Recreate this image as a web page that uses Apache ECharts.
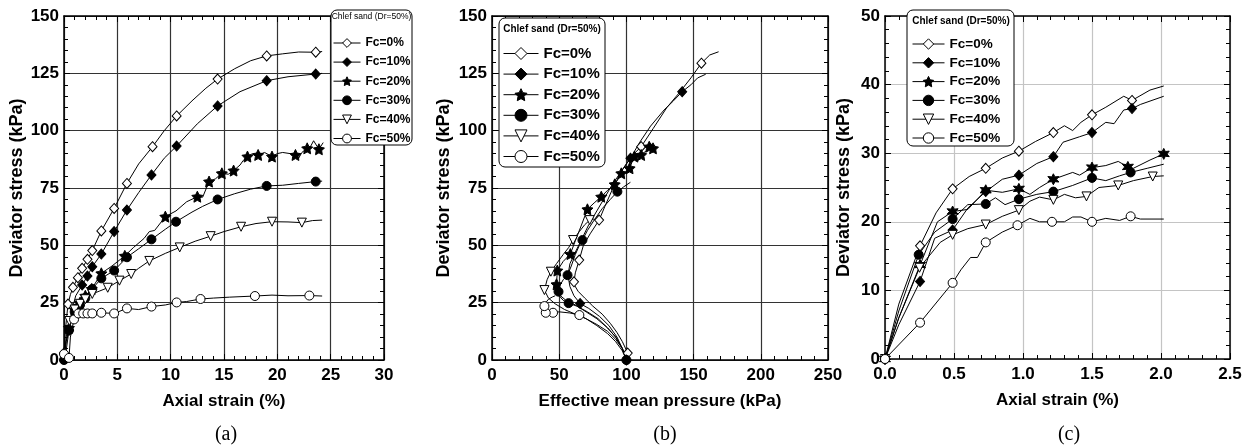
<!DOCTYPE html>
<html>
<head>
<meta charset="utf-8">
<script src="https://cdn.jsdelivr.net/npm/echarts@6/dist/echarts.min.js"></script>
<style>
html, body { margin: 0; padding: 0; background: #fff; }
#main { width: 1256px; height: 446px; }
</style>
</head>
<body>
<div id="main"></div>
<script>
const names = ['Fc=0%', 'Fc=10%', 'Fc=20%', 'Fc=30%', 'Fc=40%', 'Fc=50%'];
const legendTitle = 'Chlef sand (Dr=50%)';

// (a) deviator stress vs axial strain
const aLine0 = [[0,3],[0.15,14],[0.375,24.4],[0.6,28.5],[0.84,31.7],[1.3,35.9],[1.7,40],[2.2,43.9],[2.65,47.7],[3.5,56.3],[4.7,66.1],[5.9,77],[7,85.5],[8.3,93],[9.4,100],[10.56,106.4],[12,113],[13.3,118.5],[14.4,122.5],[16,127],[17.5,130.5],[19,132.6],[20.5,133.5],[22,134.3],[23.6,134.2],[24.2,134.5]];
const aMark0 = [[0,3],[0.375,24.4],[0.84,31.7],[1.3,35.9],[1.7,40],[2.2,43.9],[2.65,47.7],[3.5,56.3],[4.7,66.1],[5.9,77],[8.3,93],[10.56,106.4],[14.4,122.5],[19,132.6],[23.6,134.2]];
const aLine1 = [[0,-3],[0.2,4],[0.47,13],[0.7,21],[1.1,28],[1.7,32.7],[2.2,36.6],[2.65,40.7],[3.5,46.2],[4.7,56],[5.9,65.4],[7,73],[8.2,80.7],[9.4,88],[10.56,93.3],[12.5,103],[14.4,110.8],[16.5,117],[19,121.8],[21,123.5],[23.6,124.7],[24.2,125]];
const aMark1 = [[0,-3],[0.47,13],[1.7,32.7],[2.2,36.6],[2.65,40.7],[3.5,46.2],[4.7,56],[5.9,65.4],[8.2,80.7],[10.56,93.3],[14.4,110.8],[19,121.8],[23.6,124.7]];
const aLine2 = [[0,0],[0.2,8],[0.47,14],[0.7,19],[1,22],[1.5,25],[2,28],[2.6,31],[3,34],[3.5,37.8],[4.5,41],[5.7,45.4],[6.5,49],[7.5,53],[8,56],[8.5,56.5],[9.5,62.5],[10.5,65],[11.5,69],[12.5,71.2],[13,71],[13.6,77.8],[14.2,79],[14.8,81.4],[15.4,81],[15.9,82.6],[16.5,85],[16.8,87],[17.2,88.7],[17.6,89.8],[18.2,89.4],[18.8,90.5],[19.5,88.7],[20,90],[20.5,90.5],[21.2,90],[21.7,89.4],[22,88],[22.3,90.5],[22.8,92.3],[23.1,93],[23.4,95.6],[23.9,91.9],[24.3,94.8]];
const aMark2 = [[0.47,14],[1,22],[1.5,25],[2,28],[2.6,31],[3.5,37.8],[5.7,45.4],[9.5,62.5],[12.5,71.2],[13.6,77.8],[14.8,81.4],[15.9,82.6],[17.2,88.7],[18.2,89.4],[19.5,88.7],[21.7,89.4],[22.8,92.3],[23.9,91.9]];
const aLine3 = [[0,0],[0.2,8],[0.47,13],[0.7,18],[1,21],[1.5,24],[2,27],[2.65,31],[3.5,35.6],[4.7,39],[5.9,44.8],[7,48.5],[8.2,52.6],[9.5,57],[10.5,60.3],[12,64.5],[13,67],[14.4,70],[16,72.5],[17.5,74.5],[19,75.9],[20.5,76.2],[22,77],[23.6,77.8],[24.2,78]];
const aMark3 = [[0,0],[0.47,13],[1,21],[1.5,24],[2,27],[2.65,31],[3.5,35.6],[4.7,39],[5.9,44.8],[8.2,52.6],[10.5,60.3],[14.4,70],[19,75.9],[23.6,77.8]];
const aLine4 = [[0,0],[0.2,10],[0.5,17],[1,22],[1.5,24.5],[2,26.5],[2.65,28.8],[3.3,30],[4.1,31.5],[5.2,34.6],[6.3,37.5],[7,40],[8,43.2],[9.5,46.5],[10.85,49.1],[12.3,51.8],[13.75,54],[15,56],[16.6,58.1],[18,59.5],[19.5,60.3],[21,60.2],[22.3,59.9],[23.3,60.8],[24.2,61]];
const aMark4 = [[0.5,17],[1,22],[1.5,24.5],[2,26.5],[2.65,28.8],[4.1,31.5],[5.2,34.6],[6.3,37.5],[8,43.2],[10.85,49.1],[13.75,54],[16.6,58.1],[19.5,60.3],[22.3,59.9]];
const aLine5 = [[0,2.6],[0.47,0.9],[0.6,10],[0.94,17.7],[1.35,20.3],[1.8,20.3],[2.2,20.3],[2.65,20.3],[3.5,20.6],[4.7,20.3],[5.9,22.5],[7,22],[8.2,23.3],[9.5,24],[10.56,25.1],[11.5,25.5],[12.8,26.6],[14,27],[15.5,27.4],[17.9,27.9],[19.5,28.3],[21,28],[23,28.1],[24.2,27.9]];
const aMark5 = [[0,2.6],[0.47,0.9],[0.94,17.7],[1.35,20.3],[1.8,20.3],[2.2,20.3],[2.65,20.3],[3.5,20.6],[4.7,20.3],[5.9,22.5],[8.2,23.3],[10.56,25.1],[12.8,26.6],[17.9,27.9],[23,28.1]];

// (b) deviator stress vs effective mean pressure
const bLine0 = [[101,3],[97,8],[93,12],[88,16],[82,20],[75,23.5],[69,27],[64,30],[61,33],[61,34.1],[62,38],[64.9,43.6],[68,50],[73,55],[79.7,61],[84,67],[90,75],[97,83],[104,89],[111,93],[120,101],[130,110],[140,117],[148,123],[155.8,129.4],[162,133],[168.6,134.4]];
const bMark0 = [[101,3],[61,34.1],[64.9,43.6],[79.7,61],[111,93],[155.8,129.4]];
const bLine1 = [[100,-3],[100,0],[97,5],[93,10],[87,15],[80,19],[72,22.5],[65.6,24.6],[61,28],[58,32],[56.5,37],[58,42],[62,47],[67,53],[72,59],[78,65],[84,71],[90,77],[96,82],[103,88],[110,95],[118,102],[128,109],[135,113],[141.5,117],[148,120],[153,123],[159,124.6]];
const bMark1 = [[100,-3],[100,0],[65.6,24.6],[103,88],[141.5,117]];
const bLine2 = [[100,0],[97,5],[92,10],[86,14],[78,18],[70,21],[62,24],[55,26],[50,28.5],[48,33],[48.6,39],[53,43],[58.3,46.2],[62,52],[66,58],[71,65.7],[76,68.5],[81.3,71.2],[86,74],[91.3,76.6],[94,79],[96.2,81.4],[100,82],[102.4,83.6],[104,86],[106,88.7],[108,90],[111,89.4],[113,90.5],[115,91],[117,93],[118,94.5],[119.8,92.3]];
const bMark2 = [[48,33],[48.6,39],[58.3,46.2],[71,65.7],[81.3,71.2],[91.3,76.6],[96.2,81.4],[102.4,83.6],[106,88.7],[111,89.4],[117,93],[119.8,92.3]];
const bLine3 = [[100,0],[97,5],[92,10],[86,14],[79,18],[71,21],[63,23.5],[57,24.8],[53,26],[50,28],[49.5,29.8],[51,33],[53,35],[56.2,37],[59,41],[62,46],[65,50],[67.3,52.3],[71,56.5],[76,61],[82,66],[88,70],[93.3,73.4],[98,75.5],[103,77.5]];
const bMark3 = [[100,0],[57,24.8],[49.5,29.8],[56.2,37],[67.3,52.3],[93.3,73.4]];
const bLine4 = [[100,0],[97,5],[92,9],[86,12.5],[78,15.5],[70,18],[62,20],[54,22],[47,24.5],[42,27],[39,30.5],[41,35],[43.8,38.5],[48,42],[53,46],[57,49],[60.3,52.3],[65,56],[69,59],[72.7,61],[76,61.5]];
const bMark4 = [[39,30.5],[43.8,38.5],[60.3,52.3],[72.7,61]];
const bLine5 = [[100,0],[97,4],[92,8],[86,11.5],[78,15],[70,18],[65,19.6],[58,20.5],[50,21],[45.4,20.6],[42,20.3],[40,20.6],[39,23],[40,25],[42,26.5],[45,27.5],[47,28]];
const bMark5 = [[65,19.6],[45.4,20.6],[40,20.6],[39,23.5]];

// (c) early part of (a), axial strain up to 2 %
const cLine0 = [[0,0],[0.1,8],[0.254,16.5],[0.37,21.3],[0.49,24.8],[0.61,26.6],[0.73,27.8],[0.85,29.3],[0.97,30.3],[1.09,31.7],[1.22,33],[1.3,34],[1.36,33.3],[1.42,34.5],[1.5,35.6],[1.6,36.7],[1.73,38.3],[1.79,37.7],[1.92,39.2],[2.02,39.8]];
const cMark0 = [[0,0],[0.254,16.5],[0.49,24.8],[0.73,27.8],[0.97,30.3],[1.22,33],[1.5,35.6],[1.79,37.7]];
const cLine1 = [[0,0],[0.1,5],[0.254,11.3],[0.36,17.6],[0.49,18.8],[0.6,22],[0.73,24.4],[0.85,26.2],[0.97,26.8],[1.1,28.5],[1.22,29.5],[1.29,31.6],[1.41,32.4],[1.5,33],[1.6,34.5],[1.66,34.3],[1.73,36.3],[1.79,36.5],[1.85,37.1],[2.02,38.3]];
const cMark1 = [[0,0],[0.254,11.3],[0.49,18.8],[0.73,24.4],[0.97,26.8],[1.22,29.5],[1.5,33],[1.79,36.5]];
const cLine2 = [[0,0],[0.1,6],[0.254,13.7],[0.38,20],[0.49,21.5],[0.6,21.8],[0.73,24.6],[0.85,24.3],[0.97,24.8],[1.05,24],[1.12,25],[1.22,26.2],[1.36,27.2],[1.41,26.8],[1.5,27.9],[1.6,28.2],[1.69,28.8],[1.76,28],[1.8,27.8],[1.92,29],[2.02,29.9]];
const cMark2 = [[0,0],[0.254,13.7],[0.49,21.5],[0.73,24.6],[0.97,24.8],[1.22,26.2],[1.5,27.9],[1.76,28],[2.02,29.9]];
const cLine3 = [[0,0],[0.1,7],[0.244,15.2],[0.36,18.5],[0.49,20.4],[0.6,22.5],[0.73,22.6],[0.8,23.5],[0.87,22.5],[0.97,23.3],[1.1,24],[1.22,24.4],[1.36,25.3],[1.5,26.4],[1.6,26],[1.7,26.7],[1.78,27.2],[1.9,27.8],[2.02,28.4]];
const cMark3 = [[0,0],[0.244,15.2],[0.49,20.4],[0.73,22.6],[0.97,23.3],[1.22,24.4],[1.5,26.4],[1.78,27.2]];
const cLine4 = [[0,0],[0.1,6],[0.25,13.3],[0.4,17],[0.49,18.1],[0.6,19],[0.73,19.6],[0.85,20.8],[0.97,21.7],[1.05,23],[1.12,23.6],[1.22,23.2],[1.3,24],[1.38,23.5],[1.46,23.7],[1.55,25],[1.69,25.3],[1.8,26],[1.94,26.6],[2.02,26.7]];
const cMark4 = [[0,0],[0.25,13.3],[0.49,18.1],[0.73,19.6],[0.97,21.7],[1.22,23.2],[1.46,23.7],[1.69,25.3],[1.94,26.6]];
const cLine5 = [[0,0],[0.254,5.3],[0.49,11.1],[0.55,13],[0.62,14.8],[0.67,14.8],[0.73,17],[0.85,18.5],[0.96,19.5],[1.05,20.5],[1.12,20],[1.21,20],[1.3,20],[1.36,20.7],[1.42,20.7],[1.5,20],[1.6,20.5],[1.7,20.2],[1.78,20.8],[1.85,20.4],[2.02,20.4]];
const cMark5 = [[0,0],[0.254,5.3],[0.49,11.1],[0.73,17],[0.96,19.5],[1.21,20],[1.5,20],[1.78,20.8]];

const FONT = '"Liberation Sans", Arial, sans-serif';
const STAR5 = 'path://M0,-10L2.94,-4.05L9.51,-3.09L4.76,1.55L5.88,8.09L0,5L-5.88,8.09L-4.76,1.55L-9.51,-3.09L-2.94,-4.05Z';
const STAR6 = 'path://M0,-10L2.5,-4.33L8.66,-5L5,0L8.66,5L2.5,4.33L0,10L-2.5,4.33L-8.66,5L-5,0L-8.66,-5L-2.5,-4.33Z';
const TRI_DOWN = 'path://M0,0L10,0L5,9Z';

function markStyle(i, star) {
  return [
    { symbol: 'diamond', fill: '#fff', size: [9, 10] },
    { symbol: 'diamond', fill: '#000', size: [9, 10] },
    { symbol: star, fill: '#000', size: 11 },
    { symbol: 'circle', fill: '#000', size: 9 },
    { symbol: TRI_DOWN, fill: '#fff', size: 9 },
    { symbol: 'circle', fill: '#fff', size: 9 }
  ][i];
}

const series = [];
function addPanel(gi, lines, marks, star) {
  lines.forEach(function (d, i) {
    const m = markStyle(i, star);
    series.push({
      type: 'line', name: names[i], xAxisIndex: gi * 2, yAxisIndex: gi * 2,
      data: d, showSymbol: false, symbol: m.symbol, symbolSize: m.size,
      itemStyle: { color: m.fill, borderColor: '#000', borderWidth: 1 },
      lineStyle: { color: '#000', width: 1 }, silent: true, z: 2
    });
  });
  marks.forEach(function (d, i) {
    const m = markStyle(i, star);
    series.push({
      type: 'scatter', name: names[i], xAxisIndex: gi * 2, yAxisIndex: gi * 2,
      data: d, symbol: m.symbol, symbolSize: m.size,
      itemStyle: { color: m.fill, borderColor: '#000', borderWidth: 1, opacity: 1 },
      silent: true, z: 3
    });
  });
}
addPanel(0, [aLine0, aLine1, aLine2, aLine3, aLine4, aLine5], [aMark0, aMark1, aMark2, aMark3, aMark4, aMark5], STAR5);
addPanel(1, [bLine0, bLine1, bLine2, bLine3, bLine4, bLine5], [bMark0, bMark1, bMark2, bMark3, bMark4, bMark5], STAR5);
addPanel(2, [cLine0, cLine1, cLine2, cLine3, cLine4, cLine5], [cMark0, cMark1, cMark2, cMark3, cMark4, cMark5], STAR6);

function axisPair(dim, gi, min, max, interval, title, gap, gridColor, fmt) {
  const base = {
    type: 'value', gridIndex: gi, min: min, max: max, interval: interval,
    axisLine: { show: true, onZero: false, lineStyle: { color: '#000', width: 1.5 } },
    axisTick: { show: true, inside: true, length: 6, lineStyle: { color: '#000', width: 1 } },
    minorTick: { show: true, splitNumber: 5, length: 4, lineStyle: { color: '#000', width: 1 } },
    minorSplitLine: { show: false }
  };
  const main = Object.assign({}, base, {
    position: dim === 'x' ? 'bottom' : 'left',
    name: title, nameLocation: 'middle', nameGap: gap,
    nameTextStyle: { fontSize: dim === 'x' ? 17 : 18, fontWeight: 'bold', color: '#000', fontFamily: FONT },
    axisLabel: {
      show: true, fontSize: 17, fontWeight: 'bold', color: '#000', fontFamily: FONT,
      margin: dim === 'x' ? 7 : 5, showMinLabel: true, showMaxLabel: true, hideOverlap: false,
      formatter: fmt
    },
    splitLine: { show: true, lineStyle: { color: gridColor, width: 1.2 } }
  });
  const mirror = Object.assign({}, base, {
    position: dim === 'x' ? 'top' : 'right',
    axisLabel: { show: false }, splitLine: { show: false }
  });
  return [main, mirror];
}

const xAxis = [].concat(
  axisPair('x', 0, 0, 30, 5, 'Axial strain (%)', 33, '#333'),
  axisPair('x', 1, 0, 250, 50, 'Effective mean pressure (kPa)', 33, '#333'),
  axisPair('x', 2, 0, 2.5, 0.5, 'Axial strain (%)', 33, '#c4c4c4', function (v) { return v.toFixed(1); })
);
const yAxis = [].concat(
  axisPair('y', 0, 0, 150, 25, 'Deviator stress (kPa)', 38, '#333'),
  axisPair('y', 1, 0, 150, 25, 'Deviator stress (kPa)', 39, '#333'),
  axisPair('y', 2, 0, 50, 10, 'Deviator stress (kPa)', 32, '#c4c4c4')
);

function legendAt(left, top, iw, ih, gap, fs) {
  return {
    data: names, orient: 'vertical', left: left, top: top, padding: 0,
    itemWidth: iw, itemHeight: ih, itemGap: gap, selectedMode: false, z: 10,
    itemStyle: { borderWidth: 1 }, lineStyle: { width: 1, color: '#000' },
    textStyle: { fontSize: fs, fontWeight: 'bold', color: '#000', fontFamily: FONT, lineHeight: ih }
  };
}

function legendBox(x, y, w, h, tx, ty, font) {
  return [
    { type: 'rect', z: 8, shape: { x: x, y: y, width: w, height: h, r: 6 },
      style: { fill: '#fff', stroke: '#000', lineWidth: 1 } },
    { type: 'text', z: 9, x: tx, y: ty,
      style: { text: legendTitle, font: font, fill: '#000', align: 'center', verticalAlign: 'middle' } }
  ];
}
function caption(text, x) {
  return { type: 'text', z: 9, x: x, y: 435,
    style: { text: text, font: '20px "Liberation Serif", "Times New Roman", serif', fill: '#000', align: 'center', verticalAlign: 'middle' } };
}

const chart = echarts.init(document.getElementById('main'), null, { renderer: 'canvas' });
chart.setOption({
  animation: false,
  backgroundColor: '#fff',
  grid: [
    { left: 64, top: 16, width: 320, height: 344 },
    { left: 492, top: 16, width: 336, height: 344 },
    { left: 885, top: 16, width: 345, height: 343 }
  ],
  xAxis: xAxis,
  yAxis: yAxis,
  legend: [
    legendAt(333, 37, 27, 11, 7.1, 12),
    legendAt(503, 46, 35, 15, 5.6, 15),
    legendAt(912, 37, 32, 13, 4.8, 13.5)
  ],
  graphic: [].concat(
    legendBox(331, 10, 81, 135, 371.5, 17, '8.5px "Liberation Sans", Arial, sans-serif'),
    legendBox(499, 18, 106, 149, 552, 29.5, 'bold 10px "Liberation Sans", Arial, sans-serif'),
    legendBox(907, 10, 107, 136, 961, 21, 'bold 10px "Liberation Sans", Arial, sans-serif'),
    [caption('(a)', 226), caption('(b)', 665), caption('(c)', 1069)]
  ),
  series: series
});
</script>
</body>
</html>
